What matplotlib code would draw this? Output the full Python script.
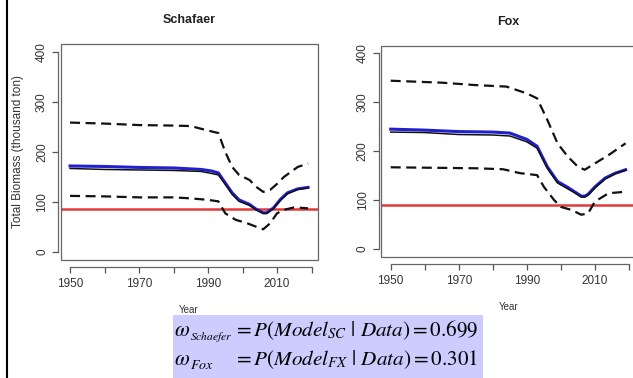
import numpy as np
import matplotlib
matplotlib.use('Agg')
import matplotlib.pyplot as plt
from matplotlib.patches import Rectangle
from matplotlib.lines import Line2D

plt.rcParams['font.family'] = ['Liberation Sans', 'DejaVu Sans']
plt.rcParams['mathtext.fontset'] = 'stix'

#---DATA-------------------------------------------------------------------------------------

# Schaefer model
sc_years = [1950, 1960, 1970, 1980, 1988, 1991, 1993, 1995, 1997, 1999, 2002, 2004, 2006, 2007, 2009, 2011, 2013, 2016, 2019]
sc_mean  = [172, 171, 169, 168, 165, 162, 158, 138, 118, 104, 95, 85, 78, 78, 88, 105, 118, 126, 129]
sc_med   = [167, 165, 164, 163, 161, 157, 154, 135, 115, 101, 93, 84, 77, 77, 87, 103, 116, 125, 128]
sc_up_years = [1950, 1960, 1970, 1980, 1985, 1990, 1993, 1995, 1997, 1999, 2002, 2004, 2006, 2008, 2010, 2012, 2016, 2019]
sc_upper    = [259, 257, 254, 253, 252, 243, 238, 200, 170, 154, 144, 130, 120, 124, 136, 150, 170, 177]
sc_lo_years = [1950, 1960, 1970, 1980, 1985, 1990, 1993, 1995, 1998, 2001, 2004, 2006, 2008, 2010, 2012, 2015, 2019]
sc_lower    = [112, 111, 109, 109, 107, 104, 101, 77, 64, 58, 50, 45, 57, 77, 84, 89, 87]
sc_ref = 86

# Fox model
fx_years = [1950, 1960, 1970, 1980, 1985, 1990, 1993, 1996, 1999, 2002, 2004, 2006, 2007, 2008, 2010, 2013, 2016, 2019]
fx_mean  = [245, 243, 240, 239, 237, 224, 210, 168, 138, 126, 117, 108, 108, 112, 127, 145, 155, 162]
fx_med   = [239, 238, 234, 233, 231, 219, 206, 165, 135, 123, 115, 106, 106, 110, 125, 143, 154, 161]
fx_up_years = [1950, 1965, 1975, 1984, 1990, 1993, 1996, 1999, 2002, 2005, 2007, 2010, 2014, 2019]
fx_upper    = [344, 340, 335, 332, 318, 308, 264, 216, 189, 168, 162, 175, 192, 216]
fx_lo_years = [1950, 1975, 1983, 1988, 1993, 1995, 1998, 2000, 2003, 2006, 2008, 2010, 2014, 2019]
fx_lower    = [167, 165, 163, 155, 151, 127, 100, 86, 80, 70, 73, 97, 114, 117]
fx_ref = 90

xticks = [1950, 1960, 1970, 1980, 1990, 2000, 2010, 2020]
xticklabels = ['1950', '', '1970', '', '1990', '', '2010', '']
yticks = [0, 100, 200, 300, 400]

# model weights
w_names = ['Schaefer', 'Fox']
w_codes = ['SC', 'FX']
w_vals = [0.699, 0.301]

#---PLOT--------------------------------------------------------------------------------------

W, H = 633, 378
fig = plt.figure(figsize=(W/100, H/100), dpi=100)

def panel(rect, title, yrs, mean, med, uy, up, ly, lo, ref, ylabel=None):
  ax = fig.add_axes(rect)
  ax.set_xlim(1947.24, 2021.76)
  ax.set_ylim(-16, 416)
  ax.axhline(ref, color='#e23a3a', lw=1.8, zorder=1)
  ax.plot(uy, up, color='#111111', lw=1.6, linestyle=(0, (4.5, 2.5)))
  ax.plot(ly, lo, color='#111111', lw=1.6, linestyle=(0, (4.5, 2.5)))
  ax.plot(yrs, mean, color='#2020d0', lw=2.2)
  ax.plot(yrs, med, color='#111111', lw=1.1)
  # R-style box plus detached axes
  ax.add_patch(Rectangle((0, 0), 1, 1, transform=ax.transAxes, fill=False,
                         edgecolor='#666666', lw=0.9, clip_on=False))
  for s in ['top', 'right']:
    ax.spines[s].set_visible(False)
  ax.spines['bottom'].set_position(('outward', 5))
  ax.spines['bottom'].set_bounds(1950, 2020)
  ax.spines['left'].set_position(('outward', 2))
  ax.spines['left'].set_bounds(0, 400)
  for s in ['bottom', 'left']:
    ax.spines[s].set_color('#666666')
    ax.spines[s].set_linewidth(0.9)
  ax.set_xticks(xticks)
  ax.set_xticklabels(xticklabels)
  ax.set_yticks(yticks)
  ax.set_yticklabels([str(v) for v in yticks], rotation=90, va='center')
  ax.tick_params(colors='#555555', labelcolor='#333333', labelsize=8.5, length=4, width=0.9)
  ax.tick_params(axis='x', pad=4)
  ax.tick_params(axis='y', pad=3)
  ax.set_title(title, fontsize=9, fontweight='bold', color='#222222', pad=15)
  ax.set_xlabel('Year', fontsize=7, color='#333333', labelpad=11)
  if ylabel:
    ax.set_ylabel(ylabel, fontsize=8.5, color='#333333', labelpad=9)
  return ax

panel([60.5/W, 1-259.7/H, 257.1/W, 215.4/H], 'Schafaer',
      sc_years, sc_mean, sc_med, sc_up_years, sc_upper, sc_lo_years, sc_lower, sc_ref,
      ylabel='Total Biomass (thousand ton)')
panel([381.3/W, 1-256.8/H, 253.7/W, 211.3/H], 'Fox',
      fx_years, fx_mean, fx_med, fx_up_years, fx_upper, fx_lo_years, fx_lower, fx_ref)

# left border line
fig.add_artist(Line2D([6.5/W, 6.5/W], [0, 1], color='black', lw=1.5, transform=fig.transFigure))

# model weight box
fig.add_artist(Rectangle((172.7/W, 0), 310/W, 63/H, transform=fig.transFigure,
                         facecolor='#ccccff', edgecolor='none'))
baselines = [336, 365]
sub_sizes = [8.3, 10]
for i in range(2):
  yb = 1 - baselines[i]/H
  fig.text(174/W, yb, r'$\omega$', fontsize=15.5, va='baseline', ha='left')
  fig.text(190/W, yb - 4/H, r'$\mathit{' + w_names[i] + '}$', fontsize=sub_sizes[i],
           va='baseline', ha='left')
  fig.text(233/W, yb, r'$= P(Model_{' + w_codes[i] + r'}\ |\ Data) = ' + '%.3f' % w_vals[i] + '$',
           fontsize=15.2, va='baseline', ha='left')

fig.savefig('out.png', dpi=100)
